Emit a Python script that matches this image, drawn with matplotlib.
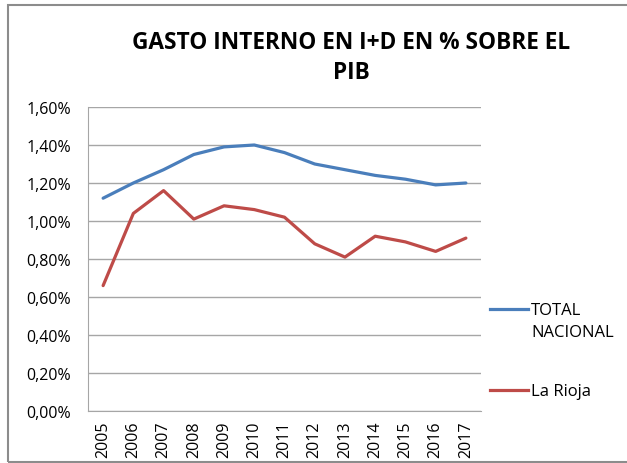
import matplotlib
matplotlib.use('Agg')
import matplotlib.pyplot as plt
from matplotlib.lines import Line2D
from matplotlib.patches import Rectangle
from matplotlib.ticker import FuncFormatter

# datos
years = ['2005', '2006', '2007', '2008', '2009', '2010', '2011',
         '2012', '2013', '2014', '2015', '2016', '2017']
total_nacional = [1.12, 1.20, 1.27, 1.35, 1.39, 1.40, 1.36,
                  1.30, 1.27, 1.24, 1.22, 1.19, 1.20]
la_rioja = [0.66, 1.04, 1.16, 1.01, 1.08, 1.06, 1.02,
            0.88, 0.81, 0.92, 0.89, 0.84, 0.91]

blue = '#4a7ebb'
red = '#be4b48'
grid_col = '#a6a6a6'

plt.rcParams['font.family'] = ['Open Sans', 'DejaVu Sans']

fig = plt.figure(figsize=(6.27, 4.64), dpi=100)
fig.patch.set_facecolor('white')

# marco exterior del grafico
fig.add_artist(Rectangle((8 / 627, 1.5 / 464), 1.2, 457 / 464, transform=fig.transFigure,
                         fill=False, edgecolor='#8c8c8c', linewidth=1.5))

ax = fig.add_axes([88 / 627, 1 - 412 / 464, 393 / 627, 304 / 464])
x = list(range(len(years)))
ax.plot(x, total_nacional, color=blue, linewidth=2.3, solid_capstyle='round')
ax.plot(x, la_rioja, color=red, linewidth=2.3, solid_capstyle='round')

ax.set_xlim(-0.5, len(years) - 0.5)
ax.set_ylim(0, 1.6)
ax.set_yticks([i * 0.2 for i in range(9)])
ax.yaxis.set_major_formatter(FuncFormatter(lambda v, p: f'{v:.2f}%'.replace('.', ',')))
ax.set_xticks(x)
ax.set_xticklabels(years, rotation=90)
ax.tick_params(length=0, labelsize=11.5, colors='black')
ax.tick_params(axis='y', pad=12)
ax.tick_params(axis='x', pad=7)

ax.grid(axis='y', color=grid_col, linewidth=1)
ax.set_axisbelow(True)
for s in ['top', 'right']:
    ax.spines[s].set_visible(False)
ax.spines['left'].set_color(grid_col)
ax.spines['bottom'].set_color(grid_col)

fig.text(351 / 627, 1 - 43 / 464, 'GASTO INTERNO EN I+D EN % SOBRE EL', ha='center', va='center',
         fontsize=16.3, fontweight='bold')
fig.text(351 / 627, 1 - 73 / 464, 'PIB', ha='center', va='center',
         fontsize=16.3, fontweight='bold')

# leyenda manual
fig.add_artist(Line2D([490 / 627, 528 / 627], [1 - 310 / 464] * 2, transform=fig.transFigure,
                      color=blue, linewidth=2.3))
fig.text(531 / 627, 1 - 311 / 464, 'TOTAL', va='center', fontsize=12)
fig.text(531 / 627, 1 - 333 / 464, 'NACIONAL', va='center', fontsize=12)
fig.add_artist(Line2D([490 / 627, 528 / 627], [1 - 391 / 464] * 2, transform=fig.transFigure,
                      color=red, linewidth=2.3))
fig.text(531 / 627, 1 - 392 / 464, 'La Rioja', va='center', fontsize=12)

fig.savefig('out.png', dpi=100)
